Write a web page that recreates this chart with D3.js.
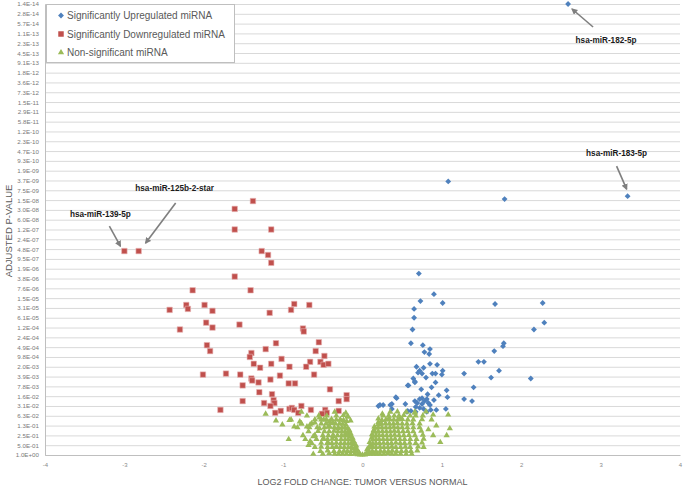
<!DOCTYPE html>
<html><head><meta charset="utf-8">
<script src="https://cdn.jsdelivr.net/npm/d3@7"></script>
<style>body{margin:0;background:#fff}svg{display:block}</style>
</head><body>
<svg id="chart" width="685" height="489"></svg>
<script>
// y tick labels, from 1.0E+00 (2^0) up to 1.4E-14 (2^-46)
const yTickLabels = ["1.0E+00","5.0E-01","2.5E-01","1.3E-01","6.3E-02","3.1E-02","1.6E-02","7.8E-03","3.9E-03","2.0E-03","9.8E-04","4.9E-04","2.4E-04","1.2E-04","6.1E-05","3.1E-05","1.5E-05","7.6E-06","3.8E-06","1.9E-06","9.5E-07","4.8E-07","2.4E-07","1.2E-07","6.0E-08","3.0E-08","1.5E-08","7.5E-09","3.7E-09","1.9E-09","9.3E-10","4.7E-10","2.3E-10","1.2E-10","5.8E-11","2.9E-11","1.5E-11","7.3E-12","3.6E-12","1.8E-12","9.1E-13","4.5E-13","2.3E-13","1.1E-13","5.7E-14","2.8E-14","1.4E-14"];
const xTickValues = [-4,-3,-2,-1,0,1,2,3,4];
const seriesNames = ["Significantly Upregulated miRNA","Significantly Downregulated miRNA","Non-significant miRNA"];

// each point: [log2 fold change, -log2(adjusted p-value)]
const upregulated = [
[2.59,46.0],[3.34,26.4],[1.79,26.1],[1.08,27.9],[0.71,18.5],[0.90,16.4],[0.73,15.7],[1.01,15.5],[1.67,15.4],[2.27,15.5],
[0.65,14.9],[0.65,14.0],[0.63,12.8],[2.29,13.5],[2.16,12.8],[0.61,11.4],[0.76,11.2],[0.85,10.8],[0.78,10.5],[0.84,10.3],
[1.78,11.4],[1.77,11.1],[1.66,10.6],[1.46,9.5],[1.53,9.5],[1.72,8.6],[1.62,7.9],[2.12,7.8],[1.28,8.3],[1.40,6.9],[1.28,5.7],[1.38,5.5],
[0.68,9.0],[0.72,8.6],[0.75,8.3],[0.77,8.9],[0.85,9.3],[0.94,9.2],[0.70,8.4],[0.88,8.3],[0.92,8.3],[1.01,8.6],[1.00,8.2],
[0.64,7.8],[0.80,7.9],[0.66,7.4],[0.92,7.4],[0.57,7.1],[0.87,6.9],[0.74,6.7],[1.06,6.6],[0.82,6.2],[0.96,6.1],[1.07,5.9],
[0.43,5.8],[0.66,5.5],[0.72,5.7],[0.75,5.8],[0.78,5.5],[0.81,5.7],[0.90,5.6],[0.69,5.3],[0.75,5.2],[0.83,5.3],[0.85,5.1],
[0.26,5.1],[0.22,5.1],[0.37,5.2],[0.54,5.2],[0.37,4.7],[0.67,4.9],[0.72,4.8],[0.77,4.7],[0.57,4.5],[0.61,4.5],[0.86,4.6],
[0.93,4.6],[1.05,4.7],[0.67,4.4],[0.81,4.4],[0.20,5.0],[0.42,5.9],[0.58,7.1],[0.66,7.5],[0.56,4.4],[0.35,5.1]
];
const downregulated = [
[-3.00,20.8],[-2.82,20.8],[-1.61,25.1],[-1.61,23.0],[-1.61,18.2],[-2.14,16.8],[-1.38,25.9],[-1.15,23.0],[-1.27,20.8],[-1.19,20.4],
[-1.15,19.6],[-1.41,16.8],[-2.43,14.8],[-2.22,15.3],[-2.20,14.9],[-1.99,15.3],[-1.89,14.7],[-0.86,15.4],[-0.67,15.3],[-0.90,14.8],
[-1.17,14.5],[-1.97,13.5],[-1.89,13.0],[-2.30,12.8],[-1.55,13.3],[-1.96,11.2],[-1.92,10.6],[-1.40,10.4],[-1.42,10.0],[-1.37,9.3],
[-1.29,8.9],[-2.01,8.2],[-1.72,8.3],[-1.54,8.2],[-1.40,7.8],[-1.39,7.6],[-1.31,7.4],[-1.51,7.1],[-1.30,6.4],[-1.51,5.5],[-1.79,4.6],
[-0.75,12.9],[-0.74,12.6],[-1.09,11.4],[-1.22,10.8],[-0.55,11.5],[-0.59,10.6],[-0.48,10.1],[-1.02,9.8],[-0.66,9.5],[-0.53,9.5],
[-0.49,9.2],[-0.43,9.3],[-1.15,9.3],[-0.92,9.0],[-0.71,9.0],[-1.04,8.1],[-0.61,8.2],[-1.16,7.7],[-0.93,7.3],[-0.85,7.3],[-0.41,6.7],
[-1.14,6.2],[-0.20,6.1],[-0.20,5.7],[-1.24,5.3],[-1.12,5.6],[-1.11,5.3],[-0.30,5.5],[-1.16,5.0],[-0.77,5.0],[-0.92,4.7],[-0.89,4.8],
[-0.86,4.6],[-0.65,4.6],[-0.47,4.6],[-0.45,4.3],[-0.51,4.2],[-0.30,4.5],[-1.03,4.5],[-1.10,4.3],[-0.81,4.3]
];
const nonSignificant = [
[-0.62,0.1],[-0.50,0.1],[-0.42,0.15],[-0.35,0.1],[-0.30,0.1],[-0.25,0.12],[-0.20,0.1],[-0.15,0.08],[-0.10,0.1],[-0.06,0.05],[-0.03,0.03],[0.00,0.02],[0.03,0.04],[0.06,0.08],[0.10,0.1],[0.14,0.1],[0.18,0.12],[0.22,0.1],[0.27,0.1],[0.32,0.15],[0.37,0.1],[0.42,0.1],[0.48,0.12],[0.55,0.1],[0.62,0.1],
[-0.53,0.4],[-0.44,0.45],[-0.36,0.4],[-0.29,0.4],[-0.235,0.42],[-0.19,0.4],[-0.145,0.4],[-0.10,0.38],[-0.07,0.3],[-0.04,0.2],[0.05,0.2],[0.085,0.35],[0.125,0.4],[0.17,0.4],[0.225,0.42],[0.275,0.4],[0.325,0.4],[0.375,0.45],[0.43,0.4],[0.49,0.4],[0.55,0.42],[0.61,0.4],[0.69,0.45],
[-0.60,0.8],[-0.52,0.82],[-0.44,0.8],[-0.38,0.8],[-0.33,0.85],[-0.28,0.8],[-0.23,0.8],[-0.18,0.78],[-0.14,0.8],[-0.10,0.7],[-0.07,0.6],[0.06,0.6],[0.09,0.75],[0.13,0.8],[0.17,0.8],[0.22,0.82],[0.27,0.8],[0.32,0.8],[0.37,0.85],[0.42,0.8],[0.48,0.8],[0.54,0.82],[0.60,0.8],[0.70,0.85],
[-0.64,1.2],[-0.52,1.22],[-0.445,1.2],[-0.385,1.2],[-0.33,1.25],[-0.275,1.2],[-0.225,1.2],[-0.18,1.18],[-0.14,1.2],[-0.105,1.1],[-0.08,0.95],[0.095,1.0],[0.13,1.15],[0.17,1.2],[0.215,1.2],[0.265,1.22],[0.315,1.2],[0.365,1.2],[0.42,1.25],[0.475,1.2],[0.53,1.2],[0.595,1.22],[0.67,1.2],[0.75,1.25],
[-0.72,1.6],[-0.58,1.62],[-0.50,1.6],[-0.44,1.6],[-0.38,1.65],[-0.33,1.6],[-0.27,1.6],[-0.22,1.58],[-0.18,1.6],[-0.14,1.55],[-0.11,1.4],[0.09,1.3],[0.13,1.55],[0.17,1.6],[0.21,1.6],[0.26,1.62],[0.31,1.6],[0.36,1.6],[0.41,1.65],[0.47,1.6],[0.53,1.6],[0.60,1.62],[0.68,1.6],[0.77,1.65],
[-0.75,2.0],[-0.60,2.02],[-0.50,2.0],[-0.43,2.0],[-0.37,2.05],[-0.315,2.0],[-0.265,2.0],[-0.22,1.98],[-0.18,2.0],[-0.145,1.9],[-0.125,1.75],[0.115,1.75],[0.13,1.95],[0.17,2.0],[0.21,2.0],[0.255,2.02],[0.305,2.0],[0.355,2.0],[0.405,2.05],[0.46,2.0],[0.52,2.0],[0.585,2.02],[0.66,2.0],[0.76,2.05],
[-0.68,2.4],[-0.56,2.42],[-0.48,2.4],[-0.42,2.4],[-0.36,2.45],[-0.31,2.4],[-0.26,2.4],[-0.22,2.38],[-0.18,2.4],[-0.15,2.2],[0.12,2.1],[0.16,2.35],[0.20,2.4],[0.25,2.42],[0.30,2.4],[0.35,2.4],[0.40,2.45],[0.45,2.4],[0.51,2.4],[0.57,2.42],[0.64,2.4],[0.74,2.45],
[-0.82,2.8],[-0.67,2.82],[-0.57,2.8],[-0.48,2.8],[-0.41,2.85],[-0.355,2.8],[-0.305,2.8],[-0.26,2.78],[-0.22,2.8],[-0.185,2.7],[-0.165,2.5],[0.14,2.5],[0.16,2.75],[0.20,2.8],[0.245,2.82],[0.295,2.8],[0.345,2.8],[0.395,2.85],[0.445,2.8],[0.50,2.8],[0.565,2.82],[0.64,2.8],[0.72,2.8],
[-0.77,3.2],[-0.64,3.22],[-0.52,3.2],[-0.46,3.2],[-0.40,3.25],[-0.34,3.2],[-0.29,3.2],[-0.25,3.18],[-0.21,3.1],[0.15,2.9],[0.20,3.15],[0.24,3.2],[0.29,3.22],[0.34,3.2],[0.39,3.2],[0.44,3.25],[0.50,3.2],[0.56,3.2],[0.63,3.22],[0.72,3.2],
[-0.90,3.6],[-0.60,3.62],[-0.52,3.6],[-0.455,3.6],[-0.39,3.65],[-0.33,3.6],[-0.28,3.6],[-0.24,3.55],[-0.20,3.45],[0.20,3.35],[0.245,3.55],[0.295,3.6],[0.345,3.62],[0.395,3.6],[0.445,3.6],[0.50,3.65],[0.57,3.6],[0.64,3.6],[0.75,3.62],[0.87,3.6],
[-0.70,4.0],[-0.55,4.02],[-0.45,4.0],[-0.33,4.0],[-0.24,4.05],[-0.19,3.9],[0.20,3.7],[0.26,4.0],[0.33,4.02],[0.40,4.0],[0.46,4.0],[0.52,4.05],[0.60,4.0],[0.67,4.0],[0.76,4.02],
[-0.77,4.4],[-0.35,4.4],[-0.21,4.3],[0.25,4.2],[0.35,4.4],[0.44,4.42],[0.55,4.4],[0.66,4.4],[0.80,4.42],
[-1.22,4.2],[-1.09,3.5],[-1.01,3.1],[-0.92,3.55],[-0.86,2.9],[-0.93,1.6],[-0.79,3.4],[-0.77,3.2],[-0.70,2.9],[-0.66,3.1],[-0.60,3.3],
[-0.54,3.8],[-0.49,3.6],[-0.42,3.4],[-0.54,2.7],[-0.43,2.9],[-0.37,3.3],[-0.28,3.6],[-0.18,3.9],[-0.15,3.5],[-0.31,2.7],[-0.66,1.4],
[-0.68,1.0],[-0.62,1.9],[-0.49,1.7],[-0.43,1.2],[-0.37,1.9],[-0.33,0.8],[-0.21,2.2],
[0.33,3.7],[0.47,3.7],[0.66,4.3],[0.89,4.1],[1.08,4.1],[1.10,2.7],[1.06,2.0],[0.89,2.0],[0.77,0.8],[0.83,2.6],[0.93,3.0],[0.98,1.3]
];
const annotations = [
  {label:"hsa-miR-182-5p", point:[2.59,46.0], tip:[4,5], tail:[25,23], text:[38,39]},
  {label:"hsa-miR-183-5p", point:[3.34,26.4], tip:[-1,-7], tail:[-11,-30], text:[-11,-40]},
  {label:"hsa-miR-139-5p", point:[-3.00,20.8], tip:[-4,-5], tail:[-15,-25], text:[-24,-34]},
  {label:"hsa-miR-125b-2-star", point:[-2.82,20.8], tip:[7,-8], tail:[37,-48], text:[36,-60]}
];

const colors = ["#4f81bd","#c0504d","#9bbb59"];
const FONT = "Liberation Sans, Arial, sans-serif";
const svg = d3.select("#chart");
const L = 45, R = 680, T = 4, B = 455;
const x = d3.scaleLinear().domain([-4,4]).range([L,R]);
const y = d3.scaleLog().base(2).domain([1, Math.pow(2,-46)]).range([B,T]);
const yVals = yTickLabels.map((s,i)=>Math.pow(2,-i));
const pv = k => Math.pow(2,-k);

// gridlines
svg.append("g").attr("transform",`translate(${L},0)`)
  .call(d3.axisLeft(y).tickValues(yVals).tickSize(-(R-L)).tickFormat(""))
  .call(g=>{g.select(".domain").remove();g.selectAll("line").attr("stroke","#d9d9d9").attr("stroke-width",1);});

// y axis labels
const yAxis = svg.append("g").attr("transform",`translate(${L},0)`)
  .call(d3.axisLeft(y).tickValues(yVals).tickSize(0).tickPadding(6).tickFormat((d,i)=>yTickLabels[i]));
yAxis.select(".domain").attr("stroke","#bfbfbf");
yAxis.selectAll("text").attr("font-family",FONT).attr("font-size",6.2).attr("fill","#7a7a7a");

// x axis
const xAxis = svg.append("g").attr("transform",`translate(0,${B})`)
  .call(d3.axisBottom(x).tickValues(xTickValues).tickSize(0).tickPadding(8).tickFormat(d=>d));
xAxis.select(".domain").attr("stroke","#bfbfbf");
xAxis.selectAll("text").attr("font-family",FONT).attr("font-size",6).attr("fill","#8a8a8a");

// titles
svg.append("text").attr("x",(L+R)/2).attr("y",485).attr("text-anchor","middle")
  .attr("font-family",FONT).attr("font-size",9).attr("fill","#595959")
  .text("LOG2 FOLD CHANGE: TUMOR VERSUS NORMAL");
svg.append("text").attr("transform","translate(12,231) rotate(-90)").attr("text-anchor","middle")
  .attr("font-family",FONT).attr("font-size",9.5).attr("fill","#595959")
  .text("ADJUSTED P-VALUE");

// markers
const diamond = d3.symbol().type(d3.symbolSquare).size(17);
const square = d3.symbol().type(d3.symbolSquare).size(30);
const tri = d3.symbol().type(d3.symbolTriangle).size(17);

svg.append("g").selectAll("path").data(upregulated).join("path")
  .attr("d",diamond).attr("fill",colors[0])
  .attr("transform",d=>`translate(${x(d[0])},${y(pv(d[1]))}) rotate(45)`);
svg.append("g").selectAll("path").data(downregulated).join("path")
  .attr("d",square).attr("fill",colors[1]).attr("stroke","#e8b4b3").attr("stroke-width",0.6)
  .attr("transform",d=>`translate(${x(d[0])},${y(pv(d[1]))})`);
svg.append("g").selectAll("path").data(nonSignificant).join("path")
  .attr("d",tri).attr("fill",colors[2])
  .attr("transform",d=>`translate(${x(d[0])},${y(pv(d[1]))})`);

// legend
const lg = svg.append("g");
lg.append("rect").attr("x",46.5).attr("y",4.5).attr("width",188).attr("height",58)
  .attr("fill","#fff").attr("stroke","#bfbfbf");
const legendSyms = [diamond, square, tri];
seriesNames.forEach((n,i)=>{
  const yy = 15.5 + i*18.5;
  lg.append("path").attr("d",legendSyms[i]).attr("fill",colors[i])
    .attr("transform",`translate(61,${yy})`+(i===0?" rotate(45)":""));
  lg.append("text").attr("x",67).attr("y",yy+3.5)
    .attr("font-family",FONT).attr("font-size",10).attr("fill","#595959").text(n);
});

// annotations
const defs = svg.append("defs");
defs.append("marker").attr("id","ah").attr("viewBox","0 0 10 10").attr("refX",8).attr("refY",5)
  .attr("markerWidth",4).attr("markerHeight",4).attr("orient","auto")
  .append("path").attr("d","M0,0L10,5L0,10z").attr("fill","#7f7f7f");
annotations.forEach(a=>{
  const px = x(a.point[0]), py = y(pv(a.point[1]));
  svg.append("line").attr("x1",px+a.tail[0]).attr("y1",py+a.tail[1])
    .attr("x2",px+a.tip[0]).attr("y2",py+a.tip[1])
    .attr("stroke","#7f7f7f").attr("stroke-width",1.6).attr("marker-end","url(#ah)");
  svg.append("text").attr("x",px+a.text[0]).attr("y",py+a.text[1]).attr("text-anchor","middle")
    .attr("font-family",FONT).attr("font-weight","bold")
    .attr("font-size",8.2).attr("fill","#1a1a1a").text(a.label);
});
</script>
</body></html>
